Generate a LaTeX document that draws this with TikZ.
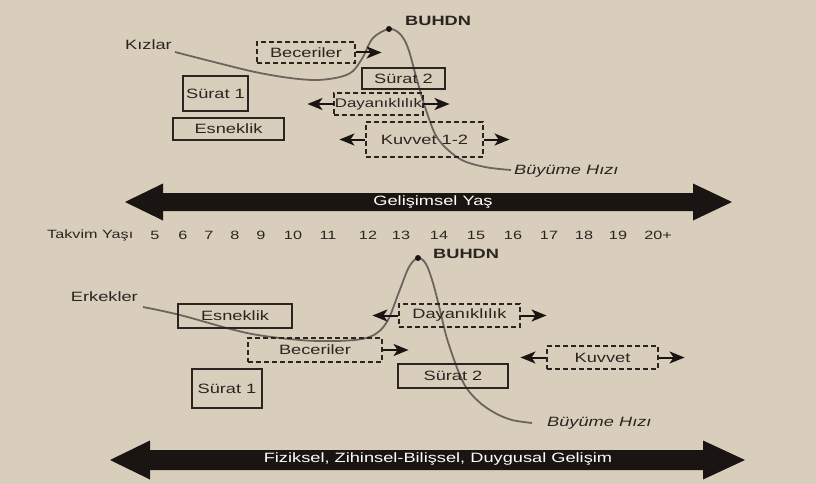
\documentclass[tikz,border=0pt]{standalone}
\usepackage{fontspec}
\setmainfont{Liberation Sans}[FakeStretch=1.35]
\usetikzlibrary{arrows.meta,positioning}
\definecolor{paper}{RGB}{217,206,187}
\definecolor{ink}{RGB}{42,37,33}
\definecolor{curvegray}{RGB}{108,101,95}
\definecolor{band}{RGB}{26,21,18}
\tikzset{
  box/.style={draw=ink, line width=1.1pt, inner sep=0pt, text=ink, font=\fontsize{13.5}{16}\selectfont},
  solidbox/.style={box},
  dashbox/.style={box, dash pattern=on 5pt off 3pt},
  span/.style={draw=band, line width=2pt, -{Stealth[length=15pt,width=12pt,inset=4pt]}},
  growth/.style={draw=curvegray, line width=1.8pt},
  peakdot/.style={circle, fill=band, inner sep=0pt, minimum size=6pt},
  lbl/.style={inner sep=0pt, text=ink, font=\fontsize{13.5}{16}\selectfont},
  bolderlbl/.style={lbl, font=\fontsize{13.5}{16}\selectfont\bfseries},
  ratelbl/.style={lbl, font=\fontsize{13.5}{16}\selectfont\itshape},
  agelbl/.style={inner sep=0pt, text=ink, font=\fontsize{12}{14}\selectfont},
  bandtext/.style={inner sep=0pt, text=white, font=\fontsize{13.5}{16}\selectfont}
}
\begin{document}
\begin{tikzpicture}[x=1pt,y=-1pt]
\fill[paper] (0,0) rectangle (816,484);
\useasboundingbox (0,0) rectangle (816,484);

% girls
\node[lbl, anchor=east] (girls) at (172,45) {Kızlar};
\draw[growth] plot[smooth, tension=0.55] coordinates {(175,52) (210,61) (255,72) (290,78) (317,80) (340,77) (353,71) (363,57) (373,38) (389,29) (400,34) (408,48) (417,80) (426,110) (438,139) (460,159) (485,167) (511,170)};
\node[peakdot] (peak1) at (389,29) {};
\node[bolderlbl, anchor=west] (buhdn1) at (405,21) {BUHDN};
\node[ratelbl, anchor=west] (rate1) at (514,171) {Büyüme Hızı};

\node[dashbox, minimum width=98, minimum height=21] (bec1) at (306,52.5) {Beceriler};
\node[solidbox, minimum width=83, minimum height=21] (sur2a) at (403.5,78.5) {Sürat 2};
\node[solidbox, minimum width=65, minimum height=35] (sur1a) at (215.5,93.5) {Sürat 1};
\node[dashbox, minimum width=89, minimum height=22, font=\fontsize{12.5}{15}\selectfont] (day1) at (378.5,104) {Dayanıklılık};
\node[solidbox, minimum width=111, minimum height=22] (esn1) at (228.5,129) {Esneklik};
\node[dashbox, minimum width=117, minimum height=35] (kuv1) at (424.5,139.5) {Kuvvet 1-2};

% developmental age band
\fill[band] (125,202) -- (163,183.5) -- (163,193) -- (693,193) -- (693,183.5) -- (732,202)
  -- (693,220.5) -- (693,211) -- (163,211) -- (163,220.5) -- cycle;
\node[bandtext] (devage) at (433,202) {Gelişimsel Yaş};

% chronological age
\node[agelbl, anchor=west] (takvim) at (47,235) {Takvim Yaşı};
\foreach \n/\x [count=\i] in {5/155,6/183,7/209,8/235,9/261,10/293,11/328,12/368,13/401,14/439,15/476,16/513,17/549,18/584,19/618,20+/658}
  \node[agelbl] (age\i) at (\x,235) {\n};

% boys
\node[lbl, anchor=east] (boys) at (138,297) {Erkekler};
\draw[growth] plot[smooth, tension=0.55] coordinates {(143,307) (180,315) (247,333) (300,340) (335,341) (362,339) (377,333) (388,320) (399,292) (409,267) (418,258) (426,264) (433,283) (440,310) (448,342) (463,382) (478,401) (495,413) (512,420) (532,423)};
\node[peakdot] (peak2) at (418,258) {};
\node[bolderlbl, anchor=west] (buhdn2) at (433,254) {BUHDN};
\node[ratelbl, anchor=west] (rate2) at (547,423) {Büyüme Hızı};

\node[solidbox, minimum width=114, minimum height=24] (esn2) at (235,316) {Esneklik};
\node[dashbox, minimum width=121, minimum height=23] (day2) at (459.5,315.5) {Dayanıklılık};
\node[dashbox, minimum width=134, minimum height=24] (bec2) at (315,350) {Beceriler};
\node[dashbox, minimum width=111, minimum height=23] (kuv2) at (602.5,357.5) {Kuvvet};
\node[solidbox, minimum width=110, minimum height=24] (sur2b) at (453,376) {Sürat 2};
\node[solidbox, minimum width=70, minimum height=39] (sur1b) at (227,388.5) {Sürat 1};

% spread arrows
\foreach \b in {bec1,bec2}{
  \coordinate[right=26pt of \b] (\b-r);
  \draw[span] (\b) -- (\b-r);
}
\foreach \b in {day1,kuv1,day2,kuv2}{
  \coordinate[left=26pt of \b] (\b-l);
  \coordinate[right=26pt of \b] (\b-r);
  \draw[span] (\b) -- (\b-l);
  \draw[span] (\b) -- (\b-r);
}

% whole development band
\fill[band] (110,460) -- (150,440.5) -- (150,450) -- (703,450) -- (703,440.5) -- (745,460)
  -- (703,479.5) -- (703,470) -- (150,470) -- (150,479.5) -- cycle;
\node[bandtext] (wholedev) at (438,459) {Fiziksel, Zihinsel-Bilişsel, Duygusal Gelişim};
\end{tikzpicture}
\end{document}
